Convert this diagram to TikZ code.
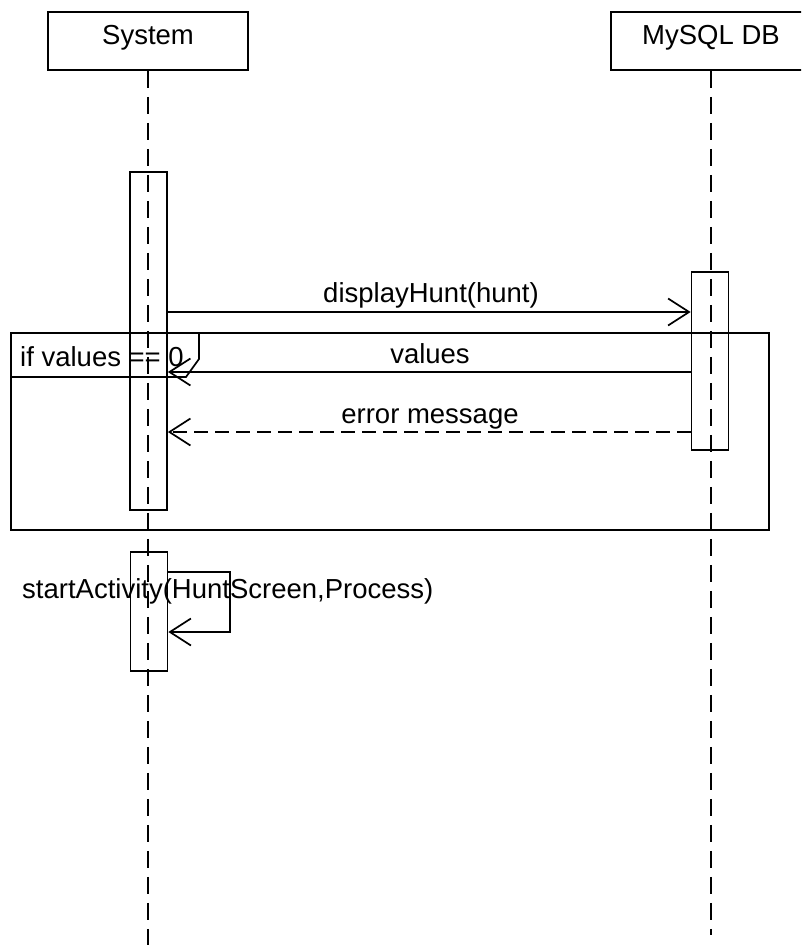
\documentclass[tikz,border=0pt]{standalone}
\usepackage{fontspec}
\setmainfont{Liberation Sans}
\usetikzlibrary{arrows.meta}
\tikzset{
  x=1pt, y=-1pt,
  every node/.style={font=\fontsize{27.5}{33}\selectfont},
  actor/.style={draw, line width=1.7pt, minimum width=200pt, minimum height=58pt, inner sep=0pt,
                text height=0.72em, text depth=0.1em},
  act/.style={draw, line width=1.7pt, minimum width=37pt, inner sep=0pt},
  life/.style={line width=1.7pt, dash pattern=on 17pt off 9pt},
  msg/.style={line width=1.7pt, -{Straight Barb[length=21pt, width=27pt, line width=1.7pt]}},
  reply/.style={msg, dash pattern=on 14pt off 7pt},
  framebox/.style={draw, line width=1.7pt, inner sep=0pt},
  lbl/.style={inner sep=0pt},
}
\begin{document}
\begin{tikzpicture}
\useasboundingbox (0,0) rectangle (801,945);
\clip (0,0) rectangle (801,945);
\fill[white] (0,0) rectangle (801,945);

% lifeline heads
\node[actor] (sys) at (148,41) {System};
\node[actor] (db) at (711,41) {MySQL DB};

% lifelines
\coordinate (sysend) at (148,945);
\coordinate (dbend) at (711,935);
\draw[life] (sys.south) -- (sysend);
\draw[life] (db.south) -- (dbend);

% activations
\node[act, minimum height=338pt] (a1) at (148.5,341) {};
\node[act, minimum height=178pt] (a2) at (710,361) {};
\node[act, minimum height=119pt] (a3) at (149,611.5) {};

% frame
\node[framebox, minimum width=758pt, minimum height=197pt, anchor=north west] (frame) at (10,332) {};
\coordinate (t1) at (199,332);
\coordinate (t2) at (199,359);
\coordinate (t3) at (186,377);
\coordinate (t4) at (10,377);
\draw[line width=1.7pt] (t1) -- (t2) -- (t3) -- (t4);
\node[lbl, anchor=base west] (cond) at (20,366) {if values == 0};

% messages
\draw[msg] (a1.east |- 0,312) -- (a2.west |- 0,312);
\node[lbl, anchor=base] (m1) at (431,302) {displayHunt(hunt)};

\draw[msg] (a2.west |- 0,372) -- (a1.east |- 0,372);
\node[lbl, anchor=base] (m2) at (430,363) {values};

\draw[reply] (a2.west |- 0,432) -- (a1.east |- 0,432);
\node[lbl, anchor=base] (m3) at (430,423) {error message};

% self call
\coordinate (s1) at (230,572);
\coordinate (s2) at (230,632);
\draw[msg] (a3.east |- 0,572) -- (s1) -- (s2) -- (a3.east |- 0,632);
\node[lbl, anchor=base west] (m4) at (22,598) {startActivity(HuntScreen,Process)};
\end{tikzpicture}
\end{document}
